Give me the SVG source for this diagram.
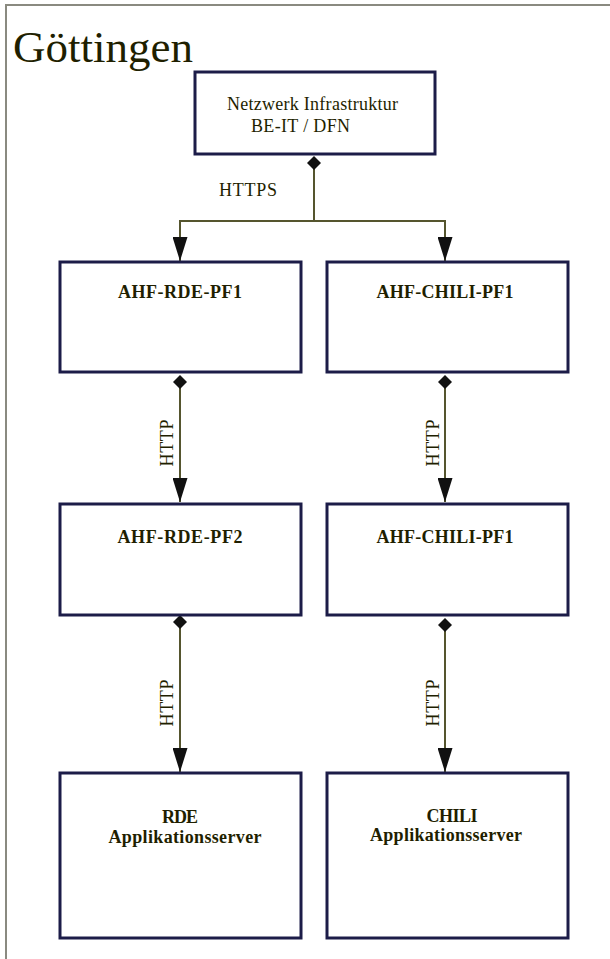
<svg xmlns="http://www.w3.org/2000/svg" width="610" height="959" viewBox="0 0 610 959">
<style>
.box{fill:#ffffff;stroke:#1c1c48;stroke-width:3}
.lbl{font-family:"Liberation Serif","Times New Roman",serif;font-size:18px;fill:#1f1f00}
.bold{font-weight:bold}
.conn{fill:none;stroke:#55552e;stroke-width:2}
</style>
<defs>
<marker id="arrow" markerUnits="userSpaceOnUse" viewBox="0 0 24 15" refX="24" refY="7.5" markerWidth="24" markerHeight="15" orient="auto">
<path d="M0,0 L24,7.5 L0,15 Z" fill="#111111"/>
</marker>
<marker id="diamond" markerUnits="userSpaceOnUse" viewBox="0 0 14 14" refX="7" refY="7" markerWidth="14" markerHeight="14" orient="auto">
<path d="M0,7 L7,0 L14,7 L7,14 Z" fill="#111111"/>
</marker>
</defs>
<rect x="0" y="0" width="610" height="959" fill="#ffffff"/>
<rect x="6" y="5" width="640" height="990" fill="none" stroke="#8a8a80" stroke-width="2"/>
<text x="13" y="62" font-family="'Liberation Serif','Times New Roman',serif" font-size="45" fill="#1f1f00">Göttingen</text>

<g id="connectors">
<path class="conn" d="M314,163 V221" marker-start="url(#diamond)"/>
<path class="conn" d="M314,221 H180 V261" marker-end="url(#arrow)"/>
<path class="conn" d="M314,221 H445 V261" marker-end="url(#arrow)"/>
<text class="lbl" x="219" y="196" textLength="58">HTTPS</text>
<path class="conn" d="M180,382 V502" marker-start="url(#diamond)" marker-end="url(#arrow)"/>
<path class="conn" d="M445,382 V502" marker-start="url(#diamond)" marker-end="url(#arrow)"/>
<text class="lbl" transform="translate(173,443) rotate(-90)" text-anchor="middle" textLength="47">HTTP</text>
<text class="lbl" transform="translate(439,443) rotate(-90)" text-anchor="middle" textLength="47">HTTP</text>
<path class="conn" d="M180,622 V772" marker-start="url(#diamond)" marker-end="url(#arrow)"/>
<path class="conn" d="M445,625 V772" marker-start="url(#diamond)" marker-end="url(#arrow)"/>
<text class="lbl" transform="translate(173,703) rotate(-90)" text-anchor="middle" textLength="47">HTTP</text>
<text class="lbl" transform="translate(439,703) rotate(-90)" text-anchor="middle" textLength="47">HTTP</text>
</g>

<g id="netzwerk">
<rect class="box" x="195" y="72" width="240" height="82"/>
<text class="lbl" x="227" y="110" textLength="171">Netzwerk Infrastruktur</text>
<text class="lbl" x="251" y="132" textLength="99">BE-IT / DFN</text>
</g>
<g id="rde-pf1">
<rect class="box" x="60" y="262" width="241" height="110"/>
<text class="lbl bold" x="180" y="298" text-anchor="middle" textLength="124">AHF-RDE-PF1</text>
</g>
<g id="chili-pf1-a">
<rect class="box" x="327" y="262" width="241" height="110"/>
<text class="lbl bold" x="445" y="298" text-anchor="middle" textLength="137">AHF-CHILI-PF1</text>
</g>
<g id="rde-pf2">
<rect class="box" x="60" y="504" width="241" height="111"/>
<text class="lbl bold" x="180" y="543" text-anchor="middle" textLength="125">AHF-RDE-PF2</text>
</g>
<g id="chili-pf1-b">
<rect class="box" x="327" y="504" width="241" height="111"/>
<text class="lbl bold" x="445" y="543" text-anchor="middle" textLength="137">AHF-CHILI-PF1</text>
</g>
<g id="rde-app">
<rect class="box" x="60" y="773" width="241" height="165"/>
<text class="lbl bold" x="180" y="823" text-anchor="middle" textLength="36">RDE</text>
<text class="lbl bold" x="185" y="843" text-anchor="middle" textLength="153">Applikationsserver</text>
</g>
<g id="chili-app">
<rect class="box" x="327" y="773" width="241" height="165"/>
<text class="lbl bold" x="452" y="822" text-anchor="middle" textLength="51">CHILI</text>
<text class="lbl bold" x="446" y="841" text-anchor="middle" textLength="152">Applikationsserver</text>
</g>
</svg>
